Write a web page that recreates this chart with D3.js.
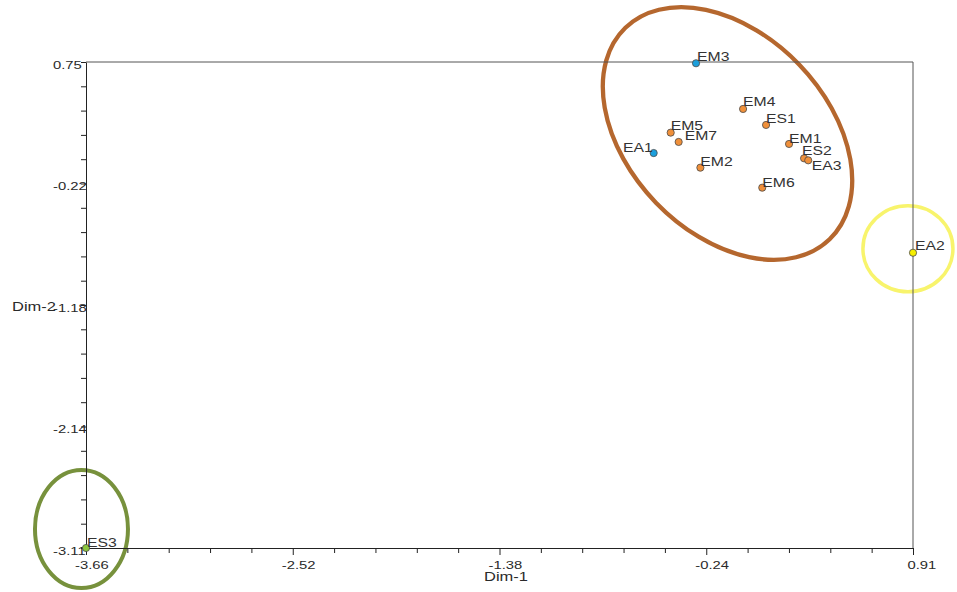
<!DOCTYPE html>
<html><head><meta charset="utf-8">
<script src="https://cdn.jsdelivr.net/npm/d3@7"></script>
<style>
body{margin:0;background:#fff;}
text{font-family:"Liberation Sans",Arial,sans-serif;fill:#2a2a2a;}
</style>
</head><body>
<svg id="chart" width="957" height="592"></svg>
<script>
// ---------- data ----------
const pointNames = ["EM3","EM4","ES1","EM5","EM7","EA1","EM1","ES2","EA3","EM2","EM6","EA2","ES3"];
const dim1Values = [-0.289,-0.029,0.098,-0.429,-0.385,-0.523,0.225,0.308,0.331,-0.265,0.077,0.91,-3.66];
const dim2Values = [0.74,0.377,0.25,0.189,0.115,0.027,0.099,-0.015,-0.031,-0.089,-0.248,-0.765,-3.11];
const pointGroups = ["blue","orange","orange","orange","orange","blue","orange","orange","orange","orange","orange","yellow","green"];

const xDomain = [-3.66, 0.91];
const yDomain = [0.75, -3.11];
const xTickValues = [-3.66, -2.5175, -1.375, -0.2325, 0.91];
const xTickLabels = ["-3.66", "-2.52", "-1.38", "-0.24", "0.91"];
const yTickValues = [0.75, -0.215, -1.18, -2.145, -3.11];
const yTickLabels = ["0.75", "-0.22", "-1.18", "-2.14", "-3.11"];
const xTitle = "Dim-1";
const yTitle = "Dim-2";

// cluster outlines (centre in data units)
const clusterNames = ["main","right","bottom"];
const clusterCx = [-0.115, 0.882, -3.685];
const clusterCy = [0.182, -0.733, -2.959];

// ---------- styles / layout ----------
const groupFill = {blue:"#1b9fdc", orange:"#f0903a", yellow:"#f5ee00", green:"#8cc63e"};
const clusterStyle = {
  main:  {rx:147, ry:99.5, rot:46, stroke:"#b5672e", w:4.3},
  right: {rx:45, ry:43, rot:0, stroke:"#f8f46c", w:3.5},
  bottom:{rx:46.5, ry:59, rot:0, stroke:"#77913c", w:4}
};
const labelLayout = {
  EM3:{dx:1,dy:-2,a:"start"}, EM4:{dx:0,dy:-2.5,a:"start"}, ES1:{dx:0,dy:-2,a:"start"},
  EM5:{dx:0,dy:-3,a:"start"}, EM7:{dx:6,dy:-2,a:"start"}, EA1:{dx:-1,dy:-1,a:"end"},
  EM1:{dx:0,dy:-1,a:"start"}, ES2:{dx:-2,dy:-3,a:"start"}, EA3:{dx:3.5,dy:10,a:"start"},
  EM2:{dx:0,dy:-1.7,a:"start"}, EM6:{dx:0,dy:-1,a:"start"}, EA2:{dx:2,dy:-3,a:"start"},
  ES3:{dx:1,dy:-1,a:"start"}
};
const SX = 1.25; // horizontal stretch of the original picture's text

const svg = d3.select("#chart");
const x = d3.scaleLinear().domain(xDomain).range([86, 913]);
const y = d3.scaleLinear().domain(yDomain).range([62, 548]);

// cluster ellipses
svg.append("g").selectAll("ellipse").data(clusterNames).join("ellipse")
  .attr("transform",(d,i)=>`translate(${x(clusterCx[i])},${y(clusterCy[i])}) rotate(${clusterStyle[d].rot})`)
  .attr("rx",d=>clusterStyle[d].rx).attr("ry",d=>clusterStyle[d].ry)
  .attr("fill","none").attr("stroke",d=>clusterStyle[d].stroke).attr("stroke-width",d=>clusterStyle[d].w);

// frame top & right
svg.append("line").attr("x1",x.range()[0]).attr("x2",x.range()[1]).attr("y1",y.range()[0]).attr("y2",y.range()[0])
  .attr("stroke","#555").attr("stroke-width",1);
svg.append("line").attr("x1",x.range()[1]).attr("x2",x.range()[1]).attr("y1",y.range()[0]).attr("y2",y.range()[1])
  .attr("stroke","#555").attr("stroke-width",1);

// minor ticks
function minors(vals){
  const out=[];
  for(let i=0;i<vals.length-1;i++){
    const s=(vals[i+1]-vals[i])/5;
    for(let k=1;k<5;k++) out.push(vals[i]+s*k);
  }
  return out;
}
const xMinor = svg.append("g").attr("transform",`translate(0,${y.range()[1]})`)
  .call(d3.axisBottom(x).tickValues(minors(xTickValues)).tickFormat("").tickSize(5).tickSizeOuter(0));
xMinor.select(".domain").remove();
const yMinor = svg.append("g").attr("transform",`translate(${x.range()[0]},0)`)
  .call(d3.axisLeft(y).tickValues(minors(yTickValues)).tickFormat("").tickSize(5).tickSizeOuter(0));
yMinor.select(".domain").remove();

// major axes
const gx = svg.append("g").attr("transform",`translate(0,${y.range()[1]})`)
  .call(d3.axisBottom(x).tickValues(xTickValues).tickFormat((d,i)=>xTickLabels[i]).tickSize(7).tickSizeOuter(0));
gx.selectAll("text")
  .attr("x",0).attr("y",0).attr("dy",null)
  .attr("text-anchor","start")
  .attr("font-size",11.5)
  .attr("transform",(d,i)=>`translate(${xTickLabels[i].startsWith("-")?-11.5:-6},21) scale(${SX*1.03},1)`)
  .style("fill","#2a2a2a");
const gy = svg.append("g").attr("transform",`translate(${x.range()[0]},0)`)
  .call(d3.axisLeft(y).tickValues(yTickValues).tickFormat((d,i)=>yTickLabels[i]).tickSize(5).tickSizeOuter(0));
gy.selectAll("text")
  .attr("x",0).attr("y",0).attr("dy",null)
  .attr("text-anchor","start")
  .attr("font-size",11.5)
  .attr("transform",`translate(-33,6) scale(${SX*1.03},1)`)
  .style("fill","#2a2a2a");
[gx,gy,xMinor,yMinor].forEach(g=>{
  g.selectAll("line").attr("stroke","#222");
  g.select(".domain").attr("stroke","#222");
});

// axis titles
svg.append("text").text(xTitle).attr("font-size",12)
  .attr("transform",`translate(484,581) scale(${SX*1.1},1)`);
svg.append("text").text(yTitle).attr("font-size",12)
  .attr("transform",`translate(12,311) scale(${SX*1.1},1)`);

// points
const idx = d3.range(pointNames.length);
svg.append("g").selectAll("circle").data(idx).join("circle")
  .attr("cx",i=>x(dim1Values[i])).attr("cy",i=>y(dim2Values[i])).attr("r",3.6)
  .attr("fill",i=>groupFill[pointGroups[i]]).attr("stroke","#4a4a4a").attr("stroke-width",0.8);

// point labels
svg.append("g").selectAll("text").data(idx).join("text")
  .text(i=>pointNames[i])
  .attr("font-size",13)
  .attr("text-anchor",i=>labelLayout[pointNames[i]].a)
  .attr("transform",i=>{
    const L=labelLayout[pointNames[i]];
    return `translate(${x(dim1Values[i])+L.dx},${y(dim2Values[i])+L.dy}) scale(${SX*0.97},1)`;
  })
  .style("fill","#333");
</script>
</body></html>
